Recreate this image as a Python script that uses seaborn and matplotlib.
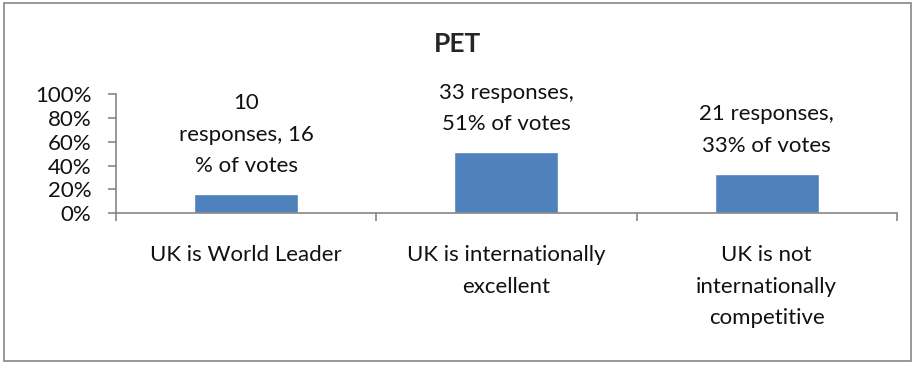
import matplotlib
matplotlib.use('Agg')
import matplotlib.pyplot as plt
import matplotlib.patches as mpatches
from matplotlib.ticker import PercentFormatter
import seaborn as sns
import pandas as pd

categories = ['UK is World Leader', 'UK is internationally\nexcellent',
              'UK is not\ninternationally\ncompetitive']
shares = [0.16, 0.51, 0.33]
bar_labels = ['10\nresponses, 16\n% of votes', '33 responses,\n51% of votes',
              '21 responses,\n33% of votes']

df = pd.DataFrame({'category': categories, 'share': shares})

sns.set_style('white')
plt.rcParams['font.family'] = ['Lato', 'DejaVu Sans']

fig = plt.figure(figsize=(9.15, 3.65), dpi=100)
ax = fig.add_axes([0.127, 0.416, 0.853, 0.326])

sns.barplot(data=df, x='category', y='share', color='#4F81BD', width=0.4,
            saturation=1, ax=ax)

# data labels above the bars
for i, (v, lab) in enumerate(zip(shares, bar_labels)):
    ax.annotate(lab, (i, v), xytext=(0, 13), textcoords='offset points',
                ha='center', va='bottom', fontsize=16, linespacing=1.72,
                color='#111111')

ax.set_ylim(0, 1)
ax.set_xlim(-0.5, 2.5)
ax.set_yticks([0, 0.2, 0.4, 0.6, 0.8, 1.0])
ax.yaxis.set_major_formatter(PercentFormatter(1.0, decimals=0))
ax.set_xticks([0, 1, 2])
ax.set_xticklabels(categories, linespacing=1.72)
ax.set_xticks([-0.5, 0.5, 1.5, 2.5], minor=True)
ax.tick_params(axis='x', which='major', length=0, pad=23, labelsize=16,
               labelcolor='#111111')
ax.tick_params(axis='x', which='minor', bottom=True, length=6,
               color='#868686', width=1.2)
ax.tick_params(axis='y', left=True, length=6, color='#868686', width=1.2,
               labelsize=16, pad=12, labelcolor='#111111')
ax.set_xlabel('')
ax.set_ylabel('')

for side in ['top', 'right']:
    ax.spines[side].set_visible(False)
for side in ['left', 'bottom']:
    ax.spines[side].set_color('#868686')
    ax.spines[side].set_linewidth(1.2)

fig.text(0.5, 0.88, 'PET', ha='center', va='center', fontsize=19,
         fontweight='bold')

# outer chart border
fig.patches.append(mpatches.Rectangle((0.004, 0.012), 0.992, 0.98,
                                      transform=fig.transFigure, fill=False,
                                      edgecolor='#868686', linewidth=1.2))

fig.savefig('out.png', dpi=100)
